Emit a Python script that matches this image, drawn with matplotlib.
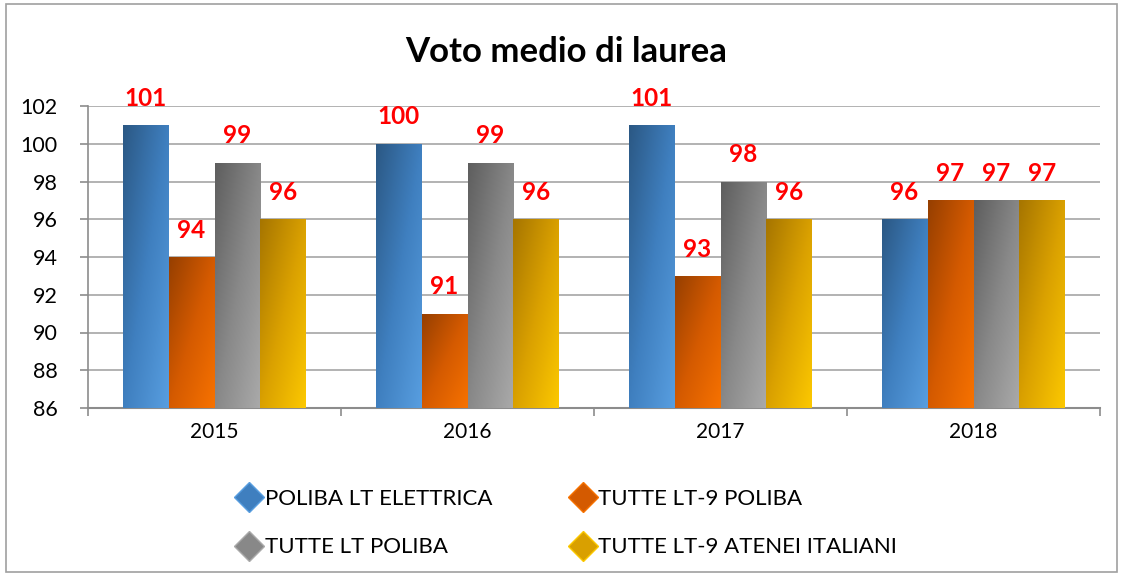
import numpy as np
import matplotlib
matplotlib.use("Agg")
import matplotlib.pyplot as plt
from matplotlib.colors import LinearSegmentedColormap
from matplotlib.lines import Line2D
from matplotlib.patches import Rectangle

plt.rcParams['font.family'] = ['Lato', 'DejaVu Sans']

years = ["2015", "2016", "2017", "2018"]
series_names = ["POLIBA LT ELETTRICA", "TUTTE LT-9 POLIBA",
                "TUTTE LT POLIBA", "TUTTE LT-9 ATENEI ITALIANI"]
poliba_lt_elettrica = [101, 100, 101, 96]
tutte_lt9_poliba = [94, 91, 93, 97]
tutte_lt_poliba = [99, 99, 98, 97]
tutte_lt9_atenei = [96, 96, 96, 97]
series_values = [poliba_lt_elettrica, tutte_lt9_poliba, tutte_lt_poliba, tutte_lt9_atenei]

dark_cols = ["#2B5884", "#963F00", "#5E5E5E", "#A67500"]
light_cols = ["#589EE0", "#F77200", "#AAAAAA", "#FCC800"]
mid_cols = ["#3F7FBF", "#D45A00", "#888888", "#D9A000"]

fig = plt.figure(figsize=(11.23, 5.77), dpi=100)
fig.patches.append(Rectangle((0.005, 0.008), 0.99, 0.985, transform=fig.transFigure,
                             fill=False, edgecolor="#A0A0A0", linewidth=1.2))
ax = fig.add_axes([88/1123, 1 - 408/577, (1100-88)/1123, (408-106)/577])

ymin, ymax = 86, 102
n = len(series_values)
group_w = 0.727
bw = group_w / n
x = np.arange(len(years))

# gradient image: dark top-left to light bottom-right (origin lower)
gx, gy = np.meshgrid(np.linspace(0, 1, 64), np.linspace(0, 1, 64))
grad = (gx * 0.5 + (1 - gy) * 0.5)

for i, vals in enumerate(series_values):
    cmap = LinearSegmentedColormap.from_list("c%d" % i, [dark_cols[i], mid_cols[i], light_cols[i]])
    offs = (i - (n - 1) / 2) * bw
    bars = ax.bar(x + offs, [v - ymin for v in vals], width=bw, bottom=ymin,
                  color=mid_cols[i], edgecolor="none", zorder=2)
    for b, v in zip(bars, vals):
        x0, y0 = b.get_x(), b.get_y()
        w, h = b.get_width(), b.get_height()
        im = ax.imshow(grad, cmap=cmap, origin="lower", aspect="auto",
                       extent=[x0, x0 + w, y0, y0 + h], zorder=3, interpolation="bilinear")
        im.set_clip_path(b)
        ax.annotate(str(v), (x0 + w / 2, v), xytext=(0, 11), textcoords="offset points",
                    ha="center", va="bottom", color="#FF0000", fontsize=17.5,
                    fontweight="bold", zorder=5)

ax.set_xlim(-0.5, len(years) - 0.5)
ax.set_ylim(ymin, ymax)
ax.set_yticks(np.arange(86, 103, 2))
ax.yaxis.grid(True, color="#A6A6A6", linewidth=1.2, zorder=0)
ax.set_axisbelow(True)
ax.set_xticks(x)
ax.set_xticklabels(years)
ax.set_xticks(np.arange(-0.5, len(years)), minor=True)
ax.tick_params(axis="x", which="major", length=0, labelsize=15, pad=10)
ax.tick_params(axis="x", which="minor", length=6, color="#8C8C8C", width=1.2)
ax.tick_params(axis="y", length=6, color="#8C8C8C", width=1.2, labelsize=15.5, pad=16)
for s in ["top", "right"]:
    ax.spines[s].set_visible(False)
ax.spines["left"].set_color("#8C8C8C")
ax.spines["bottom"].set_color("#8C8C8C")
ax.spines["left"].set_linewidth(1.2)
ax.spines["bottom"].set_linewidth(1.5)

fig.text(566/1123, 1 - 52/577, "Voto medio di laurea", ha="center", va="center",
         fontsize=25, fontweight="bold")

handles = [Line2D([], [], marker="D", linestyle="none", markersize=15,
                  markerfacecolor=mid_cols[i], markeredgecolor=light_cols[i],
                  markeredgewidth=1.0) for i in range(n)]
order = [0, 2, 1, 3]
leg = fig.legend([handles[k] for k in order], [series_names[k] for k in order],
                 ncol=2, loc="center", bbox_to_anchor=(0.5045, 1 - 523/577),
                 frameon=False, fontsize=16, handletextpad=0.1, columnspacing=3.45,
                 labelspacing=1.3, handlelength=1.2)

fig.savefig("out.png", dpi=100)
